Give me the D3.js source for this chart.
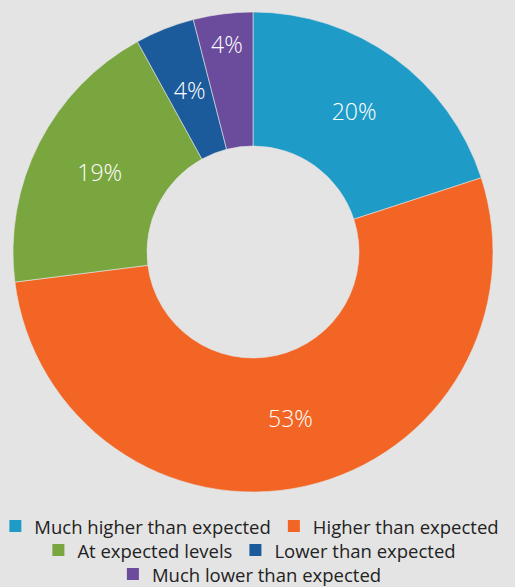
<!DOCTYPE html>
<html><head><meta charset="utf-8">
<script src="https://cdn.jsdelivr.net/npm/d3@7"></script>
<style>
html,body{margin:0;padding:0;background:#e4e4e4;}
svg{display:block;}
</style></head>
<body>
<script>
const categories = ["Much higher than expected","Higher than expected","At expected levels","Lower than expected","Much lower than expected"];
const values = [20, 53, 19, 4, 4];
const labels = ["20%","53%","19%","4%","4%"];
const colors = ["#1f9bc7","#f26524","#7aa640","#1c5b9b","#6b4b9c"];

const W = 515, H = 587;
const cx = 253, cy = 252, rOuter = 240, rInner = 106;
const font = "'Open Sans', sans-serif";

const svg = d3.select("body").append("svg").attr("width", W).attr("height", H);
svg.append("rect").attr("width", W).attr("height", H).attr("fill", "#e4e4e4");

const pie = d3.pie().sort(null).value(d => d)(values);
const arc = d3.arc().innerRadius(rInner).outerRadius(rOuter);
const g = svg.append("g").attr("transform", `translate(${cx},${cy})`);
g.selectAll("path").data(pie).join("path")
  .attr("d", arc).attr("fill", (d,i) => colors[i])
  .attr("stroke", "#e4e4e4").attr("stroke-width", 0.6);

// label radius: mid-ring, pushed outward for the last thin slice
const labelR = i => (i === 4 ? 208 : 172);
g.selectAll("text").data(pie).join("text")
  .attr("transform", (d,i) => {
    const a = (d.startAngle + d.endAngle) / 2;
    const r = labelR(i);
    return `translate(${r*Math.sin(a)},${-r*Math.cos(a)})`;
  })
  .attr("text-anchor", "middle").attr("dy", "0.3em")
  .attr("fill", "#fff").attr("font-family", font).attr("font-size", 23).attr("font-weight", 300)
  .text((d,i) => labels[i]);

// legend with flow layout
const fs = 18.5, sq = 12, gapSq = 13, gapItem = 17, maxW = 512, rowH = 24, firstBase = 534;
const lg = svg.append("g");
const tmp = lg.append("text").attr("font-family", font).attr("font-size", fs);
const widths = categories.map(c => { tmp.text(c); return tmp.node().getComputedTextLength(); });
tmp.remove();
const rows = [];
let cur = [], curW = 0;
categories.forEach((c,i) => {
  const w = sq + gapSq + widths[i];
  const add = cur.length ? gapItem + w : w;
  if (cur.length && curW + add > maxW) { rows.push({items:cur, w:curW}); cur = []; curW = 0; }
  curW += cur.length ? gapItem + w : w;
  cur.push(i);
});
if (cur.length) rows.push({items:cur, w:curW});
rows.forEach((row, ri) => {
  let x = cx - row.w / 2 + 1;
  const base = firstBase + ri * rowH;
  row.items.forEach(i => {
    lg.append("rect").attr("x", x).attr("y", base - 14).attr("width", sq).attr("height", sq).attr("fill", colors[i]);
    lg.append("text").attr("x", x + sq + gapSq).attr("y", base)
      .attr("font-family", font).attr("font-size", fs).attr("fill", "#222").text(categories[i]);
    x += sq + gapSq + widths[i] + gapItem;
  });
});
</script>
</body></html>
